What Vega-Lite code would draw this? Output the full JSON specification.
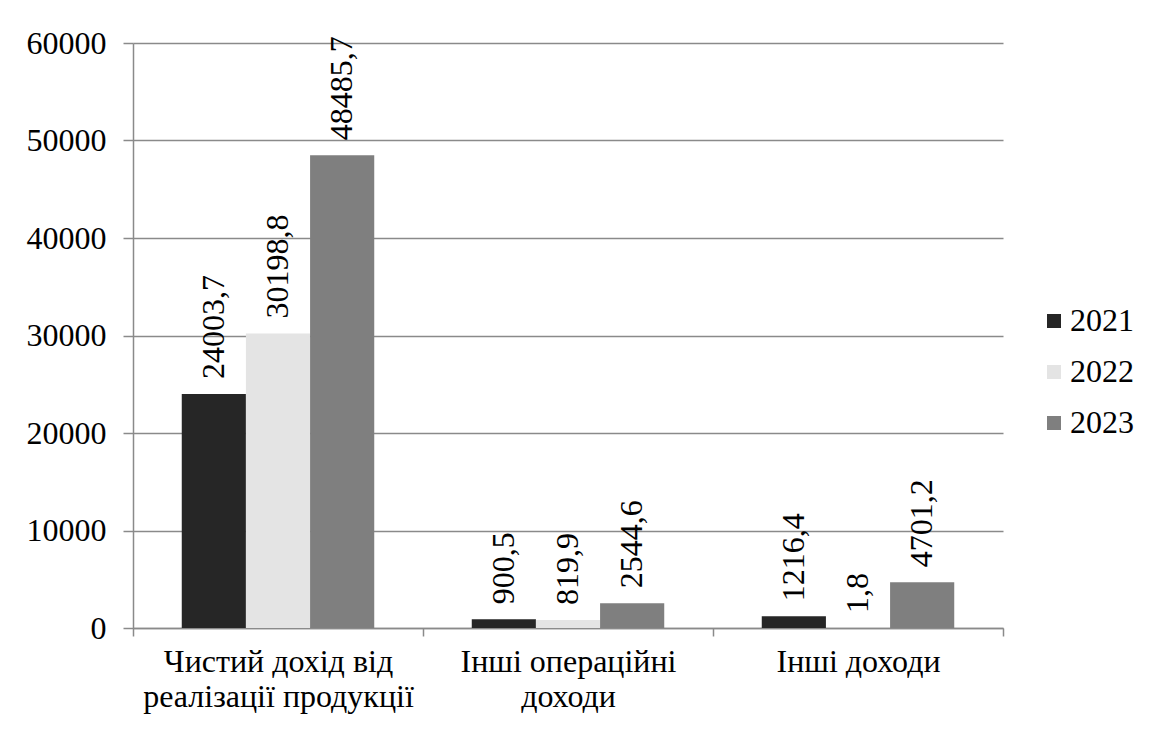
{
  "$schema": "https://vega.github.io/schema/vega-lite/v6.json",
  "autosize": "none",
  "width": 870,
  "height": 585,
  "padding": {"left": 133, "top": 43, "right": 146, "bottom": 103},
  "background": "white",
  "config": {
    "locale": {"number": {"decimal": ",", "thousands": "", "grouping": [3], "currency": ["", ""]}},
    "font": "'Liberation Serif', 'DejaVu Serif', serif",
    "view": {"stroke": null},
    "axis": {"labelFont": "'Liberation Serif', 'DejaVu Serif', serif", "labelColor": "black", "labelFontSize": 32},
    "legend": {"labelFont": "'Liberation Serif', 'DejaVu Serif', serif"}
  },
  "data": {
    "values": [
      {"category": "Чистий дохід від реалізації продукції", "year": "2021", "value": 24003.7},
      {"category": "Чистий дохід від реалізації продукції", "year": "2022", "value": 30198.8},
      {"category": "Чистий дохід від реалізації продукції", "year": "2023", "value": 48485.7},
      {"category": "Інші операційні доходи", "year": "2021", "value": 900.5},
      {"category": "Інші операційні доходи", "year": "2022", "value": 819.9},
      {"category": "Інші операційні доходи", "year": "2023", "value": 2544.6},
      {"category": "Інші доходи", "year": "2021", "value": 1216.4},
      {"category": "Інші доходи", "year": "2022", "value": 1.8},
      {"category": "Інші доходи", "year": "2023", "value": 4701.2}
    ]
  },
  "encoding": {
    "x": {
      "field": "category", "type": "nominal", "sort": null,
      "scale": {"paddingInner": 0, "paddingOuter": 0},
      "axis": {
        "title": null, "labelAngle": 0, "tickBand": "extent", "labelLimit": 0,
        "domainColor": "#8a8a8a", "domainWidth": 1.5, "tickColor": "#8a8a8a", "tickWidth": 1.5, "tickSize": 8,
        "labelPadding": 10, "labelLineHeight": 35, "labelBaseline": "top",
        "labelExpr": "datum.value == 'Чистий дохід від реалізації продукції' ? ['Чистий дохід від', 'реалізації продукції'] : datum.value == 'Інші операційні доходи' ? ['Інші операційні', 'доходи'] : datum.value"
      }
    },
    "xOffset": {"field": "year", "type": "nominal", "scale": {"paddingInner": 0, "paddingOuter": 0.76}},
    "y": {
      "field": "value", "type": "quantitative",
      "scale": {"domain": [0, 60000], "nice": false},
      "axis": {
        "title": null, "values": [0, 10000, 20000, 30000, 40000, 50000, 60000], "format": "d",
        "gridColor": "#8a8a8a", "gridWidth": 1.5, "domainColor": "#8a8a8a", "domainWidth": 1.5,
        "tickColor": "#8a8a8a", "tickWidth": 1.5, "tickSize": 10, "labelPadding": 17
      }
    }
  },
  "layer": [
    {
      "mark": {"type": "bar"},
      "encoding": {
        "color": {
          "field": "year", "type": "nominal",
          "scale": {"domain": ["2021", "2022", "2023"], "range": ["#262626", "#e4e4e4", "#7f7f7f"]},
          "legend": {
            "title": null, "orient": "none", "legendX": 905, "legendY": 262,
            "symbolType": "square", "symbolSize": 196, "symbolStrokeWidth": 0,
            "labelFontSize": 32, "labelColor": "black",
            "labelOffset": 0, "rowPadding": 19
          }
        }
      }
    },
    {
      "mark": {"type": "text", "angle": 270, "align": "left", "baseline": "middle", "dx": 15, "fontSize": 32, "color": "black"},
      "encoding": {"text": {"field": "value", "type": "quantitative", "format": ".1f"}}
    }
  ]
}
